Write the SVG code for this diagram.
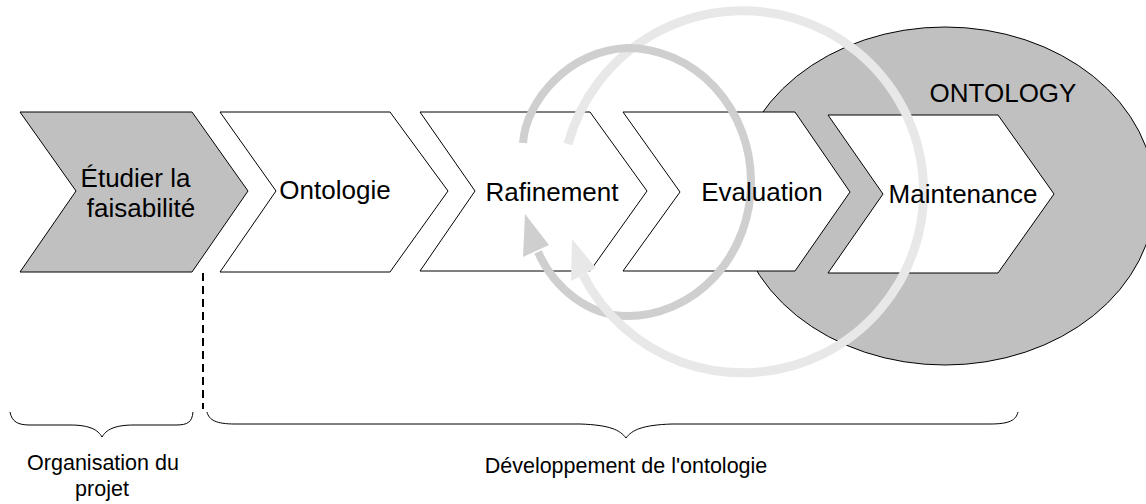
<svg xmlns="http://www.w3.org/2000/svg" width="1146" height="504" viewBox="0 0 1146 504">
  <style>
    .lbl { font-family: "Liberation Sans", Arial, sans-serif; font-size: 26px; fill: #000; text-anchor: middle; }
    .small { font-family: "Liberation Sans", Arial, sans-serif; font-size: 21.5px; fill: #000; text-anchor: middle; }
    .chev { stroke: #000; stroke-width: 1; stroke-linejoin: miter; }
    .white { fill: #fff; }
    .gray { fill: #c0c0c0; }
    .ringDark { fill: none; stroke: #cfcfcf; stroke-width: 8; }
    .ringLight { fill: none; stroke: #e8e8e8; stroke-width: 9; }
    .brace { fill: none; stroke: #000; stroke-width: 1; }
  </style>
  <rect width="1146" height="504" fill="#fff"/>

  <g id="ontology-ellipse">
    <ellipse cx="945" cy="196" rx="210" ry="169" fill="#c0c0c0" stroke="#000" stroke-width="1"/>
    <text class="lbl" x="1003" y="102">ONTOLOGY</text>
  </g>

  <g id="node-etudier">
    <polygon class="chev gray" points="20,112 192,112 248,191 192,272 20,272 76,191"/>
  </g>
  <g id="node-ontologie">
    <polygon class="chev white" points="220,112 390,112 448,191 390,272 220,272 276,191"/>
  </g>
  <g id="node-rafinement">
    <polygon class="chev white" points="420,112 590,112 647,191 590,271 420,271 475,191"/>
  </g>
  <g id="node-evaluation">
    <polygon class="chev white" points="623,112 795,112 850,192 795,271 623,271 680,192"/>
  </g>
  <g id="node-maintenance">
    <polygon class="chev white" points="828,115 998,115 1054,194 998,273 828,273 883,194"/>
  </g>

  <g id="connectors">
    <!-- light cycle arrow, back part -->
    <path class="ringLight" d="M568,144 A181,181 0 1 1 681,362"/>
    <!-- dark cycle arrow -->
    <path class="ringDark" d="M523,143 C526,100 570,50 627,48 A124,134 0 0 1 627,316 C590,316 555,290 538,252"/>
    <polygon fill="#cfcfcf" points="525,214 549,245 523,257"/>
    <!-- light cycle arrow, front part -->
    <path class="ringLight" d="M681,362 A181,181 0 0 1 583,275"/>
    <polygon fill="#e8e8e8" points="572,239 596,268 571,281"/>
    <!-- dashed separator -->
    <line x1="203" y1="273" x2="203" y2="409" stroke="#000" stroke-width="2" stroke-dasharray="8,5"/>
    <!-- braces -->
    <path class="brace" d="M10,412 C12,422 18,425 30,425 L70,425 C90,425 98,430 102,437 C106,430 114,425 134,425 L176,425 C188,425 192,422 193,412"/>
    <path class="brace" d="M207,412 C209,420 216,424 235,424 L580,424 C610,425 620,430 626,438 C632,430 642,425 672,424 L990,424 C1010,424 1016,420 1018,412"/>
  </g>

  <g id="labels">
    <text class="lbl" x="135.5" y="187">Étudier la</text>
    <text class="lbl" x="141" y="217">faisabilité</text>
    <text class="lbl" x="335" y="199">Ontologie</text>
    <text class="lbl" x="552" y="201">Rafinement</text>
    <text class="lbl" x="762" y="201">Evaluation</text>
    <text class="lbl" x="963" y="203">Maintenance</text>
    <text class="small" x="103" y="470">Organisation du</text>
    <text class="small" x="102" y="496">projet</text>
    <text class="small" x="626" y="473">Développement de l'ontologie</text>
  </g>
</svg>
